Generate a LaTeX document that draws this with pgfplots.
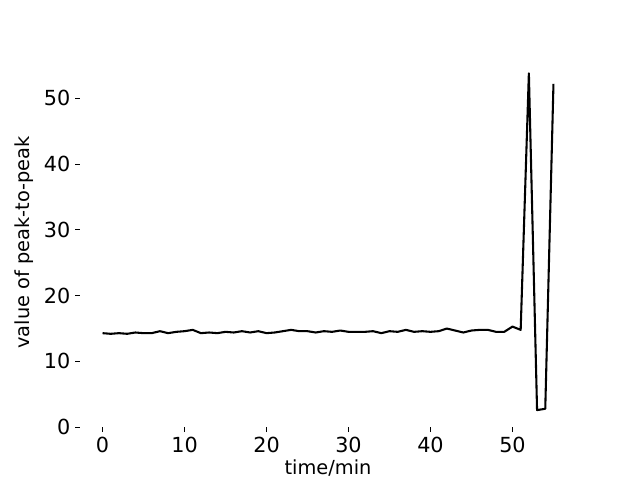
\documentclass[border=0pt]{standalone}
\usepackage{fontspec}
\setmainfont{DejaVu Sans}
\usepackage{pgfplots}
\pgfplotsset{compat=1.18}

\begin{document}
\begin{tikzpicture}
\useasboundingbox (-0.8in,-0.528in) rectangle (5.6in,4.272in);
\begin{axis}[
    at={(0,0)}, anchor=south west,
    scale only axis,
    width=4.96in, height=3.696in,
    xmin=-2.75, xmax=57.75,
    ymin=0, ymax=56.2,
    xtick={0,10,...,50},
    ytick={0,10,...,50},
    axis line style={draw=none},
    tick align=outside,
    major tick length=3.5pt,
    tick style={black, line width=0.8pt},
    xtick pos=bottom, ytick pos=left,
    /pgf/number format/assume math mode=true,
    tick label style={font=\fontsize{15}{18}\selectfont},
    label style={font=\fontsize{14}{17}\selectfont},
    xlabel={time/min},
    ylabel={value of peak-to-peak},
    xlabel style={yshift=-0.5pt, inner sep=1pt},
    ylabel style={yshift=0.5pt},
]
\addplot[black, line width=1.5pt, line join=round, mark=none] coordinates {
(0,14.3) (1,14.2) (2,14.3) (3,14.2) (4,14.4) (5,14.3) (6,14.3) (7,14.6)
(8,14.3) (9,14.5) (10,14.6) (11,14.8) (12,14.3) (13,14.4) (14,14.3) (15,14.5)
(16,14.4) (17,14.6) (18,14.4) (19,14.6) (20,14.3) (21,14.4) (22,14.6) (23,14.8)
(24,14.6) (25,14.6) (26,14.4) (27,14.6) (28,14.5) (29,14.7) (30,14.5) (31,14.5)
(32,14.5) (33,14.6) (34,14.3) (35,14.6) (36,14.5) (37,14.8) (38,14.5) (39,14.6)
(40,14.5) (41,14.6) (42,15.0) (43,14.7) (44,14.4) (45,14.7) (46,14.8) (47,14.8)
(48,14.5) (49,14.5) (50,15.3) (51,14.8) (52,53.8) (53,2.6) (54,2.8) (55,52.2)
};
\end{axis}
\end{tikzpicture}
\end{document}
